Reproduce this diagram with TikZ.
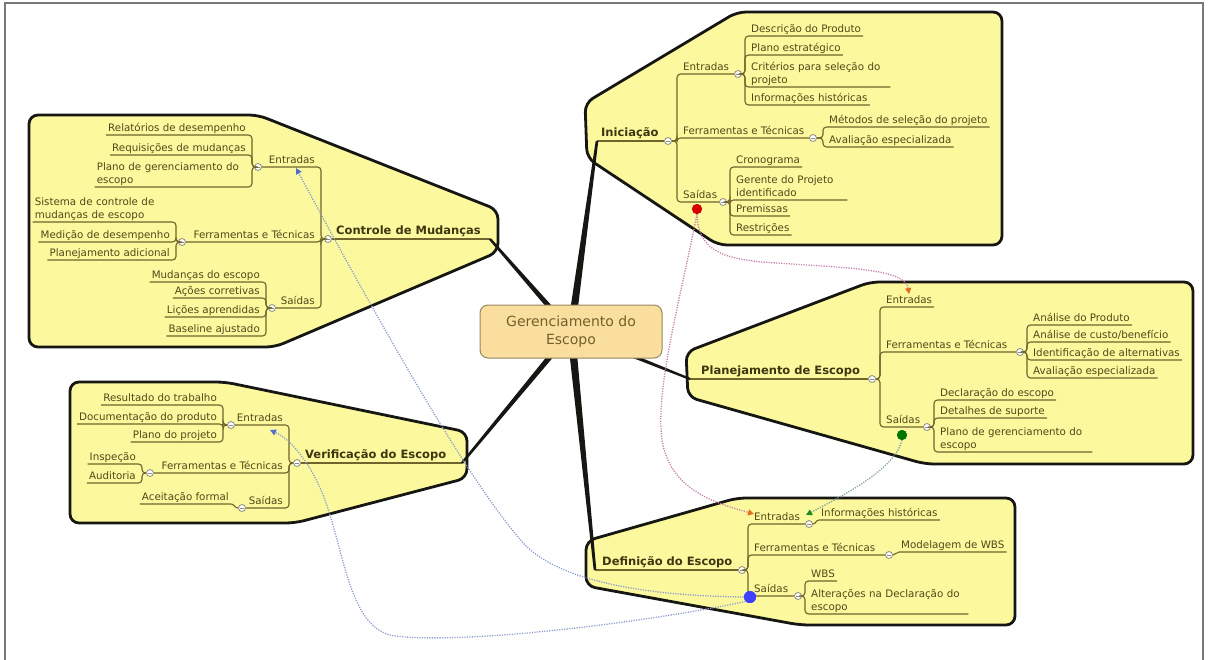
\documentclass[tikz,border=0pt]{standalone}
\usepackage{fontspec}
\setmainfont{DejaVu Sans}
\usetikzlibrary{calc,arrows.meta}

\definecolor{shapefill}{RGB}{251,248,158}
\definecolor{edgeblack}{RGB}{22,22,18}
\definecolor{twigcol}{RGB}{112,100,44}
\definecolor{txt}{RGB}{82,72,24}
\definecolor{roottxt}{RGB}{62,54,16}
\definecolor{knobgray}{RGB}{140,140,128}
\definecolor{hubfill}{RGB}{250,222,158}
\definecolor{hubdraw}{RGB}{150,135,95}
\definecolor{hubtxt}{RGB}{115,96,42}
\definecolor{mauve}{RGB}{196,128,172}
\definecolor{arrorange}{RGB}{225,110,30}
\definecolor{linkblue}{RGB}{140,158,205}
\definecolor{arrblue}{RGB}{80,110,205}
\definecolor{linkgreen}{RGB}{128,160,160}
\definecolor{arrgreen}{RGB}{30,140,30}
\definecolor{framegray}{RGB}{120,120,120}

\newcommand\leaffont{\fontsize{10.3}{13}\selectfont}
\newcommand\rootfont{\fontsize{11.5}{14}\selectfont\bfseries}
\newcommand\lfstrut{\rule[-2.5pt]{0pt}{10.5pt}}

% tapered main connector: from #1 (half width #3) to #2 (half width #4)
\newcommand\taper[4]{\fill[edgeblack] ($(#1)!#3!90:(#2)$) -- ($(#2)!#4!-90:(#1)$) -- ($(#2)!#4!90:(#1)$) -- ($(#1)!#3!-90:(#2)$) -- cycle;}

% root topic: name, connector end x, y, knob x, label x, text
\newcommand\rroot[6]{\coordinate (#1a) at (#2,#3);
  \node[knob] (#1) at (#4,#3) {};
  \node[rootlbl] (#1l) at (#5,#3) {#6};
  \draw[twig] (#1a) -- (#1.west);}
\newcommand\lroot[6]{\coordinate (#1a) at (#2,#3);
  \node[knob] (#1) at (#4,#3) {};
  \node[rootlbl] (#1l) at (#5,#3) {#6};
  \draw[twig] (#1a) -- (#1.east);}

% sub-topic with a knob: parent, trunk x, name, underline y, knob x, text
\newcommand\rmid[6]{\path (#2,0) coordinate (tk);
  \node[knob] (#3) at (#5,#4) {};
  \node[rleaf] (#3l) at ({#2+4},#4) {#6};
  \draw[twig] (#1.east) -- (#1.east -| tk) |- (#3.west);}
\newcommand\lmid[6]{\path (#2,0) coordinate (tk);
  \node[knob] (#3) at (#5,#4) {};
  \node[lleaf] (#3l) at ({#2-4},#4) {#6};
  \draw[twig] (#1.west) -- (#1.west -| tk) |- (#3.east);}

% leaf topic: [options] parent, trunk x, name, underline y, text
\newcommand\rkid[6][]{\path (#3,0) coordinate (tk);
  \node[rleaf,#1] (#4) at ({#3+4},#5) {#6};
  \draw[twig] (#2.east) -- (#2.east -| tk) |- (#4.south east);}
\newcommand\lkid[6][]{\path (#3,0) coordinate (tk);
  \node[lleaf,#1] (#4) at ({#3-4},#5) {#6};
  \draw[twig] (#2.west) -- (#2.west -| tk) |- (#4.south west);}

% single leaf joined by a short curve: parent, start x, name, underline y, text
\newcommand\rsolo[5]{\node[rleaf] (#3) at (#2,#4) {#5};
  \draw[twig, rounded corners=0pt] (#1.east) to[out=0,in=180] (#3.south west) -- (#3.south east);}
\newcommand\lsolo[5]{\node[lleaf] (#3) at (#2,#4) {#5};
  \draw[twig, rounded corners=0pt] (#1.west) to[out=180,in=0] (#3.south east) -- (#3.south west);}

\begin{document}
\begin{tikzpicture}[x=1pt,y=-1pt,
  branch/.style={fill=shapefill, draw=edgeblack, line width=2.8pt, rounded corners=9pt},
  leafbase/.style={inner xsep=2pt, inner ysep=1pt, font=\leaffont, text=txt, align=left,
    execute at begin node=\lfstrut, execute at end node=\lfstrut},
  rleaf/.style={leafbase, anchor=south west},
  lleaf/.style={leafbase, anchor=south east},
  rootlbl/.style={anchor=south west, inner xsep=1pt, inner ysep=1.5pt, font=\rootfont, text=roottxt,
    execute at begin node=\rule[-3pt]{0pt}{11pt}},
  knob/.style={circle, draw=knobgray, fill=white, line width=0.8pt, minimum size=7pt, inner sep=0pt,
    path picture={\draw[knobgray, line width=0.7pt] ([xshift=1.7pt]path picture bounding box.west) -- ([xshift=-1.7pt]path picture bounding box.east);}},
  twig/.style={draw=twigcol, line width=1.1pt, rounded corners=3.5pt},
  hub/.style={draw=hubdraw, fill=hubfill, line width=1pt, rounded corners=8pt, minimum width=182pt,
    minimum height=53pt, align=center, font=\fontsize{14}{18}\selectfont, text=hubtxt},
  link/.style={line width=1.3pt, dash pattern=on 1.2pt off 1.3pt},
  dot/.style={circle, inner sep=0pt, minimum size=10pt}
]
\useasboundingbox (0,0) rectangle (1208,659);

% frame
\draw[framegray, line width=1.5pt] (5,670) -- (5,3) -- (1203,3) -- (1203,670);

% branch outlines
\draw[branch] (585,103) -- (737,12) -- (1002,12) -- (1002,245) -- (718,245) -- (587,158) -- cycle;
\draw[branch] (29,115) -- (258,115) -- (498,210) -- (498,252) -- (275,347) -- (29,347) -- cycle;
\draw[branch] (70,382) -- (225,382) -- (467,432) -- (467,478) -- (295,523) -- (70,523) -- cycle;
\draw[branch] (686,352) -- (870,282) -- (1193,282) -- (1193,464) -- (925,464) -- (688,397) -- cycle;
\draw[branch] (737,498) -- (1015,498) -- (1015,625) -- (800,625) -- (586,586) -- (586,541) -- cycle;

% Iniciação
\rroot{iR}{597}{141}{668}{600}{Iniciação}
\rmid{iR}{677}{iE}{74}{738}{Entradas}
\rmid{iR}{677}{iF}{138}{813}{Ferramentas e Técnicas}
\rmid{iR}{677}{iS}{202}{723}{Saídas}
\rkid{iE}{745}{i1}{36}{Descrição do Produto}
\rkid{iE}{745}{i2}{55}{Plano estratégico}
\rkid[text width=137pt]{iE}{745}{i3}{87}{Critérios para seleção do\\projeto}
\rkid{iE}{745}{i4}{105}{Informações históricas}
\rkid{iF}{823}{i5}{127}{Métodos de seleção do projeto}
\rkid{iF}{823}{i6}{147}{Avaliação especializada}
\rkid{iS}{730}{i7}{167}{Cronograma}
\rkid[text width=109pt]{iS}{730}{i8}{200}{Gerente do Projeto\\identificado}
\rkid{iS}{730}{i9}{216}{Premissas}
\rkid{iS}{730}{i10}{235}{Restrições}

% Controle de Mudanças
\lroot{cR}{490}{239}{328}{335}{Controle de Mudanças}
\lmid{cR}{321}{cE}{167}{258}{Entradas}
\lmid{cR}{321}{cF}{242}{182}{Ferramentas e Técnicas}
\lmid{cR}{321}{cS}{308}{272}{Saídas}
\lkid{cE}{252}{c1}{135}{Relatórios de desempenho}
\lkid{cE}{252}{c2}{155}{Requisições de mudanças}
\lkid[text width=149pt]{cE}{252}{c3}{187}{Plano de gerenciamento do\\escopo}
\lkid[text width=135pt]{cF}{176}{c4}{222}{Sistema de controle de\\mudanças de escopo}
\lkid{cF}{176}{c5}{242}{Medição de desempenho}
\lkid{cF}{176}{c6}{260}{Planejamento adicional}
\lkid{cS}{266}{c7}{282}{Mudanças do escopo}
\lkid{cS}{266}{c8}{298}{Ações corretivas}
\lkid{cS}{266}{c9}{317}{Lições aprendidas}
\lkid{cS}{266}{c10}{336}{Baseline ajustado}

% Verificação do Escopo
\lroot{vR}{462}{463}{297}{304}{Verificação do Escopo}
\lmid{vR}{289}{vE}{425}{231}{Entradas}
\lmid{vR}{289}{vF}{473}{150}{Ferramentas e Técnicas}
\lmid{vR}{289}{vS}{508}{242}{Saídas}
\lkid{vE}{223}{v1}{405}{Resultado do trabalho}
\lkid{vE}{223}{v2}{424}{Documentação do produto}
\lkid{vE}{223}{v3}{442}{Plano do projeto}
\lkid{vF}{142}{v4}{464}{Inspeção}
\lkid{vF}{142}{v5}{483}{Auditoria}
\lsolo{vS}{231}{v6}{504}{Aceitação formal}

% Planejamento de Escopo
\rroot{pR}{690}{379}{872}{700}{Planejamento de Escopo}
\rkid{pR}{880}{pEn}{307}{Entradas}
\rmid{pR}{880}{pF}{352}{1020}{Ferramentas e Técnicas}
\rmid{pR}{880}{pS}{427}{927}{Saídas}
\rkid{pF}{1027}{p1}{325}{Análise do Produto}
\rkid{pF}{1027}{p2}{342}{Análise de custo/benefício}
\rkid{pF}{1027}{p3}{360}{Identificação de alternativas}
\rkid{pF}{1027}{p4}{378}{Avaliação especializada}
\rkid{pS}{934}{p5}{400}{Declaração do escopo}
\rkid{pS}{934}{p6}{418}{Detalhes de suporte}
\rkid[text width=150pt]{pS}{934}{p7}{452}{Plano de gerenciamento do\\escopo}

% Definição do Escopo
\rroot{dR}{595}{570}{742}{601}{Definição do Escopo}
\rmid{dR}{748}{dE}{524}{809}{Entradas}
\rmid{dR}{748}{dF}{555}{889}{Ferramentas e Técnicas}
\rmid{dR}{748}{dS}{596}{798}{Saídas}
\rsolo{dE}{819}{d1}{520}{Informações históricas}
\rsolo{dF}{899}{d2}{552}{Modelagem de WBS}
\rkid{dS}{805}{d3}{581}{WBS}
\rkid[text width=155pt]{dS}{805}{d4}{614}{Alterações na Declaração do\\escopo}

% main connectors and central topic
\coordinate (hc) at (571,331.5);
\taper{hc}{iRa}{4pt}{1.3pt}
\taper{hc}{cRa}{3pt}{1.2pt}
\taper{hc}{vRa}{3pt}{1.2pt}
\taper{hc}{dRa}{4pt}{1.3pt}
\taper{hc}{pRa}{2.3pt}{1.1pt}
\node[hub] (hub) at (hc) {Gerenciamento do\\Escopo};

% relationship markers
\node[dot, fill=red!85!black] (rdot) at (697,209) {};
\node[dot, fill=green!45!black] (gdot) at (902,435) {};
\node[dot, fill=blue!75, minimum size=12pt] (bdot) at (750,597) {};

\coordinate (dInR) at (754,514);
\coordinate (dInG) at (806,515);
\coordinate (cIn) at (296,168);
\coordinate (vIn) at (270,430);

\draw[link, draw=mauve, -{Triangle[length=6pt,width=6pt,color=arrorange]}]
  (rdot.south) .. controls (698,250) and (722,258) .. (762,262)
  .. controls (845,268) and (905,268) .. (pEn.north);
\draw[link, draw=mauve, -{Triangle[length=6pt,width=6pt,color=arrorange]}]
  (rdot.south) .. controls (680,300) and (655,390) .. (662,440)
  .. controls (670,490) and (715,503) .. (dInR);
\draw[link, draw=linkgreen, -{Triangle[length=6pt,width=6pt,color=arrgreen]}]
  (gdot.south) .. controls (895,468) and (850,492) .. (dInG);
\draw[link, draw=linkblue, -{Triangle[length=6pt,width=6pt,color=arrblue]}]
  (bdot.west) .. controls (660,596) and (565,585) .. (525,545)
  .. controls (480,495) and (410,380) .. (cIn);
\draw[link, draw=linkblue, -{Triangle[length=6pt,width=6pt,color=arrblue]}]
  (bdot.south west) .. controls (660,620) and (470,645) .. (395,636)
  .. controls (350,630) and (345,555) .. (325,500)
  .. controls (312,465) and (292,440) .. (vIn);

% markers on top of the links
\node[dot, fill=red!85!black] at (rdot) {};
\node[dot, fill=green!45!black] at (gdot) {};
\node[dot, fill=blue!75, minimum size=12pt] at (bdot) {};
\end{tikzpicture}
\end{document}
